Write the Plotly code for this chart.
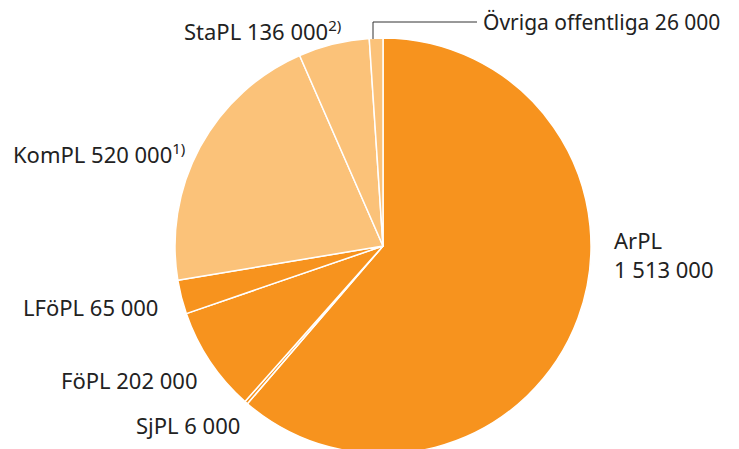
import plotly.graph_objects as go

# clockwise from 12 o'clock
labels = ["ArPL", "SjPL", "FöPL", "LFöPL", "KomPL", "StaPL", "Övriga offentliga"]
values = [1513000, 6000, 202000, 65000, 520000, 136000, 26000]
footnotes = ["", "", "", "", "1)", "2)", ""]
label_texts = [
    "ArPL<br>1 513 000",
    "SjPL 6 000",
    "FöPL 202 000",
    "LFöPL 65 000",
    "KomPL 520 000",
    "StaPL 136 000",
    "Övriga offentliga 26 000",
]

DARK = "#F7931E"
LIGHT = "#FBC279"
colors = [DARK, DARK, DARK, DARK, LIGHT, LIGHT, LIGHT]

W, H = 739, 449
# the page body adds an 8px margin, so positions are given in window pixels
# and shifted back here
OFF = 8


def fx(px_):
    return (px_ - OFF) / W


def fy(py_):
    return 1 - (py_ - OFF) / H


cx, cy, r = 383, 246, 208

fig = go.Figure(
    go.Pie(
        labels=labels,
        values=values,
        sort=False,
        direction="clockwise",
        rotation=0,
        textinfo="none",
        hoverinfo="label+value",
        marker=dict(colors=colors, line=dict(color="white", width=1.5)),
        domain=dict(
            x=[fx(cx - r), fx(cx + r)],
            y=[max(0, fy(cy + r)), fy(cy - r)],
        ),
        showlegend=False,
    )
)

# label placement in window pixels: (x, y, anchor, font size)
placements = [
    (612, 254, "left", 22),
    (242, 425, "right", 22),
    (200, 380, "right", 22),
    (160, 307, "right", 22),
    (187, 153, "right", 22),
    (343, 30, "right", 22),
    (481, 22, "left", 21),
]
for text, note, (px_, py_, anchor, size) in zip(label_texts, footnotes, placements):
    if note:
        text += f"<sup><span style='font-size:15px'>{note}</span></sup>"
    fig.add_annotation(
        x=fx(px_), y=fy(py_), xref="paper", yref="paper",
        text=text, showarrow=False, xanchor=anchor, yanchor="middle",
        align="left", font=dict(size=size, color="#222222"),
    )

# leader line for Övriga offentliga
fig.add_shape(
    type="path", xref="paper", yref="paper",
    path=f"M {fx(373)} {fy(39)} L {fx(373)} {fy(22)} L {fx(477)} {fy(22)}",
    line=dict(color="#333333", width=1),
)

fig.update_layout(
    width=W, height=H,
    margin=dict(l=0, r=0, t=0, b=0),
    paper_bgcolor="white",
    font=dict(family="Noto Sans, Open Sans, sans-serif"),
)

fig.write_html("out.html")
